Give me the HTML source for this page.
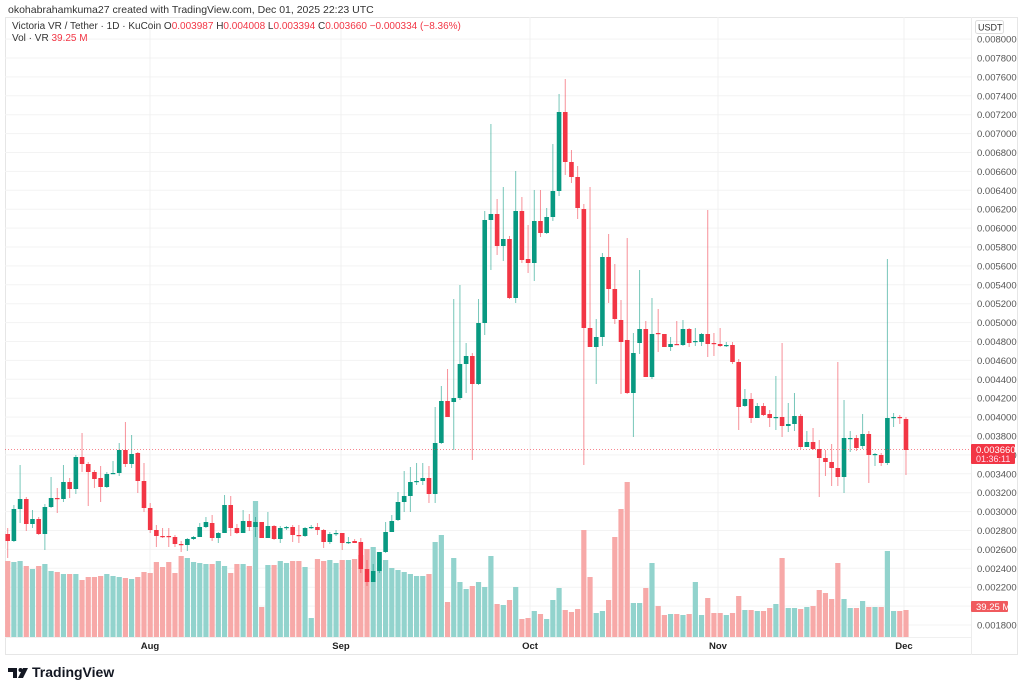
<!DOCTYPE html>
<html><head><meta charset="utf-8"><style>
html,body{margin:0;padding:0;background:#fff;width:1024px;height:691px;overflow:hidden;font-family:"Liberation Sans",sans-serif}
</style></head><body>
<svg id="s" width="1024" height="691" xmlns="http://www.w3.org/2000/svg" font-family="Liberation Sans, sans-serif">
<rect x="0" y="0" width="1024" height="691" fill="#fff"/>
<text x="8" y="13" font-size="10.5" fill="#333">okohabrahamkuma27 created with TradingView.com, Dec 01, 2025 22:23 UTC</text>
<rect x="5.5" y="17.5" width="1012" height="637" fill="none" stroke="#e6e6e6"/>
<line x1="971.5" y1="17" x2="971.5" y2="655" stroke="#ececec"/>
<line x1="5" y1="637.5" x2="971" y2="637.5" stroke="#f0f0f0"/>
<g id="grid"></g>
<g id="vol"></g>
<g id="cand"></g>
<line x1="5" y1="449.5" x2="971" y2="449.5" stroke="#f23645" stroke-width="1" stroke-dasharray="1,2" opacity="0.6"/>
<g id="axis" font-size="9.5" fill="#555"></g>
<text x="12" y="29" font-size="10" fill="#333">Victoria VR / Tether · 1D · KuCoin  <tspan>O</tspan><tspan fill="#f23645">0.003987</tspan>  H<tspan fill="#f23645">0.004008</tspan>  L<tspan fill="#f23645">0.003394</tspan>  C<tspan fill="#f23645">0.003660  −0.000334 (−8.36%)</tspan></text>
<text x="12" y="41" font-size="10" fill="#333">Vol · VR  <tspan fill="#f23645">39.25 M</tspan></text>
<rect x="975.5" y="20.5" width="28" height="13" fill="#fff" stroke="#ddd" rx="2"/>
<text x="978" y="30.5" font-size="9" fill="#333">USDT</text>
<rect x="971" y="444" width="44" height="20" fill="#f23645" rx="1"/>
<text x="976" y="453" font-size="9.5" fill="#fff">0.003660</text>
<text x="976" y="462" font-size="9" fill="#fde">01:36:11</text>
<rect x="971" y="601" width="37" height="11" fill="#f05a5e" rx="1"/>
<text x="976" y="610" font-size="9.5" fill="#fff">39.25 M</text>
<g font-size="9.5" fill="#222" font-weight="bold" text-anchor="middle">
<text x="150" y="649">Aug</text><text x="341" y="649">Sep</text><text x="530" y="649">Oct</text><text x="718" y="649">Nov</text><text x="904" y="649">Dec</text>
</g>
<g transform="translate(8,665)">
<path d="M0 3 H9 V13 H5 V7 H0Z" fill="#131722"/><circle cx="12.5" cy="5" r="2" fill="#131722"/><path d="M15 3 H20 L15 13 H10Z" fill="#131722"/>
</g>
<text x="32" y="677" font-size="14" font-weight="bold" fill="#131722">TradingView</text>
</svg>
<script>
var d=[[534,541,528,558,0],[541,509,505,542,1],[509,499,465,523,1],[499,524,497,531,0],[524,519,510,528,1],[519,534,517,535,0],[534,507,504,550,1],[507,498,477,508,1],[498,499,488,513,0],[499,482,465,502,1],
[482,489,478,498,0],[489,457,455,494,1],[457,464,433,472,0],[464,472,462,506,0],[472,479,470,488,0],[478,487,466,502,0],[487,474,472,488,1],[474,473,461,474,1],[473,450,443,476,1],[450,464,422,467,0],
[464,454,435,468,1],[453,481,452,493,0],[481,508,463,512,0],[508,530,503,533,0],[530,536,525,547,0],[536,537,528,538,0],[536,537,528,547,0],[537,544,535,547,0],[544,545,541,552,0],[545,539,538,551,1],
[539,537,536,540,1],[537,527,523,537,1],[527,522,517,528,1],[523,538,515,541,0],[538,533,532,543,1],[533,505,495,533,1],[505,528,496,536,0],[528,533,524,534,0],[533,521,510,533,1],[521,527,514,531,0],
[527,522,517,537,1],[522,538,522,538,0],[538,526,512,538,1],[526,539,525,540,0],[539,528,526,543,1],[528,527,526,530,1],[527,535,525,542,0],[535,536,525,543,0],[536,528,527,537,1],[528,527,525,529,1],
[527,530,523,535,0],[530,542,529,548,0],[542,534,532,544,1],[534,533,530,536,1],[533,543,533,550,0],[543,542,537,544,1],[541,543,539,543,0],[542,569,538,573,0],[569,582,560,586,0],[582,571,564,582,1],
[571,552,552,573,1],[552,532,522,553,1],[532,521,515,532,1],[520,502,492,521,1],[502,496,471,512,1],[496,482,467,512,1],[482,481,463,485,1],[481,478,463,485,1],[478,494,466,503,0],[494,443,407,503,1],
[443,401,386,444,1],[401,417,369,417,0],[402,398,299,450,1],[398,364,285,400,1],[364,356,343,393,1],[356,384,353,460,0],[384,323,299,385,1],[323,220,211,335,1],[220,214,124,270,1],[214,246,199,255,0],
[246,239,187,261,1],[239,298,236,299,0],[298,211,171,303,1],[211,260,197,263,0],[259,263,225,273,0],[263,221,190,281,1],[221,233,190,237,0],[233,217,208,234,1],[217,191,144,221,1],[191,112,94,196,1],
[112,162,79,175,0],[162,177,150,183,0],[177,208,166,219,0],[209,328,204,465,0],[328,347,187,347,0],[347,337,319,384,1],[337,257,253,346,1],[257,289,234,303,0],[289,319,264,324,0],[320,342,300,394,0],
[340,393,238,394,0],[393,353,333,437,1],[343,329,270,354,1],[329,377,321,377,0],[377,334,298,379,1],[333,334,309,352,0],[334,347,334,347,0],[347,344,337,351,1],[344,345,321,345,0],[345,329,320,346,1],
[329,343,328,347,0],[342,341,328,346,1],[342,334,333,346,1],[334,344,210,357,0],[343,344,333,356,0],[344,346,328,347,0],[346,345,342,347,1],[345,362,342,364,0],[362,407,359,430,0],[406,399,389,407,1],
[399,418,393,423,0],[418,406,403,418,1],[406,415,403,416,0],[414,418,410,427,0],[418,417,376,430,1],[417,426,343,437,0],[426,424,403,432,1],[424,416,393,431,1],[416,447,414,449,0],[447,442,431,447,1],
[442,449,428,450,0],[449,458,440,497,0],[458,462,450,476,0],[462,468,444,486,0],[468,477,362,486,0],[477,438,400,493,1],[438,438,431,452,1],[438,448,435,451,0],[446,434,414,449,1],[434,455,431,483,0],
[455,454,453,466,1],[455,463,453,466,0],[463,418,259,465,1],[418,417,413,427,1],[417,418,415,424,0],[419,450,417,475,0]];
var v=[561,562,561,566,569,566,564,571,572,574,574,574,580,577,577,576,574,576,577,578,579,577,572,573,562,567,562,573,556,558,562,563,564,564,561,566,573,564,564,566,501,607,565,565,561,563,561,561,567,618,559,561,560,563,560,560,559,555,549,547,552,560,568,570,572,574,576,576,574,542,535,602,558,582,589,586,582,587,556,604,605,600,587,619,618,611,614,619,600,588,610,612,609,530,577,613,611,600,537,509,482,603,603,588,563,606,615,614,614,615,614,582,615,598,613,613,615,613,596,610,610,611,611,608,604,558,608,608,609,607,606,590,593,599,563,599,608,608,601,607,607,607,551,611,611,610];
var NS="http://www.w3.org/2000/svg";
function el(p,t,a){var e=document.createElementNS(NS,t);for(var k in a)e.setAttribute(k,a[k]);p.appendChild(e);return e;}
var g=document.getElementById('grid'),ax=document.getElementById('axis');
for(var k=0;k<=31;k++){var y=625-k*18.9;el(g,'line',{x1:5,x2:971,y1:y.toFixed(1),y2:y.toFixed(1),stroke:'#f3f3f3'});
 if(k!=1){var t=el(ax,'text',{x:977,y:(y+3.5).toFixed(1)});t.textContent=(0.0018+k*0.0002).toFixed(6);}}
[150,341,530,718,904].forEach(function(x){el(g,'line',{x1:x,x2:x,y1:17,y2:637,stroke:'#f0f0f0'});});
var vg=document.getElementById('vol'),cg=document.getElementById('cand');
for(var i=0;i<d.length;i++){var x=7.7+i*6.195,c=d[i],gr=c[4];
 el(vg,'rect',{x:(x-2.6).toFixed(2),y:v[i],width:5.2,height:637-v[i],fill:gr?'#92d3cd':'#f7a9a8'});
 var col=gr?'#089981':'#f23645';
 el(cg,'line',{x1:x.toFixed(2),x2:x.toFixed(2),y1:c[2],y2:c[3],stroke:col,'stroke-width':1,opacity:0.55});
 var t=Math.min(c[0],c[1]),h=Math.max(1.2,Math.abs(c[1]-c[0]));
 el(cg,'rect',{x:(x-2.3).toFixed(2),y:t,width:4.6,height:h,fill:col});}
</script>
</body></html>
